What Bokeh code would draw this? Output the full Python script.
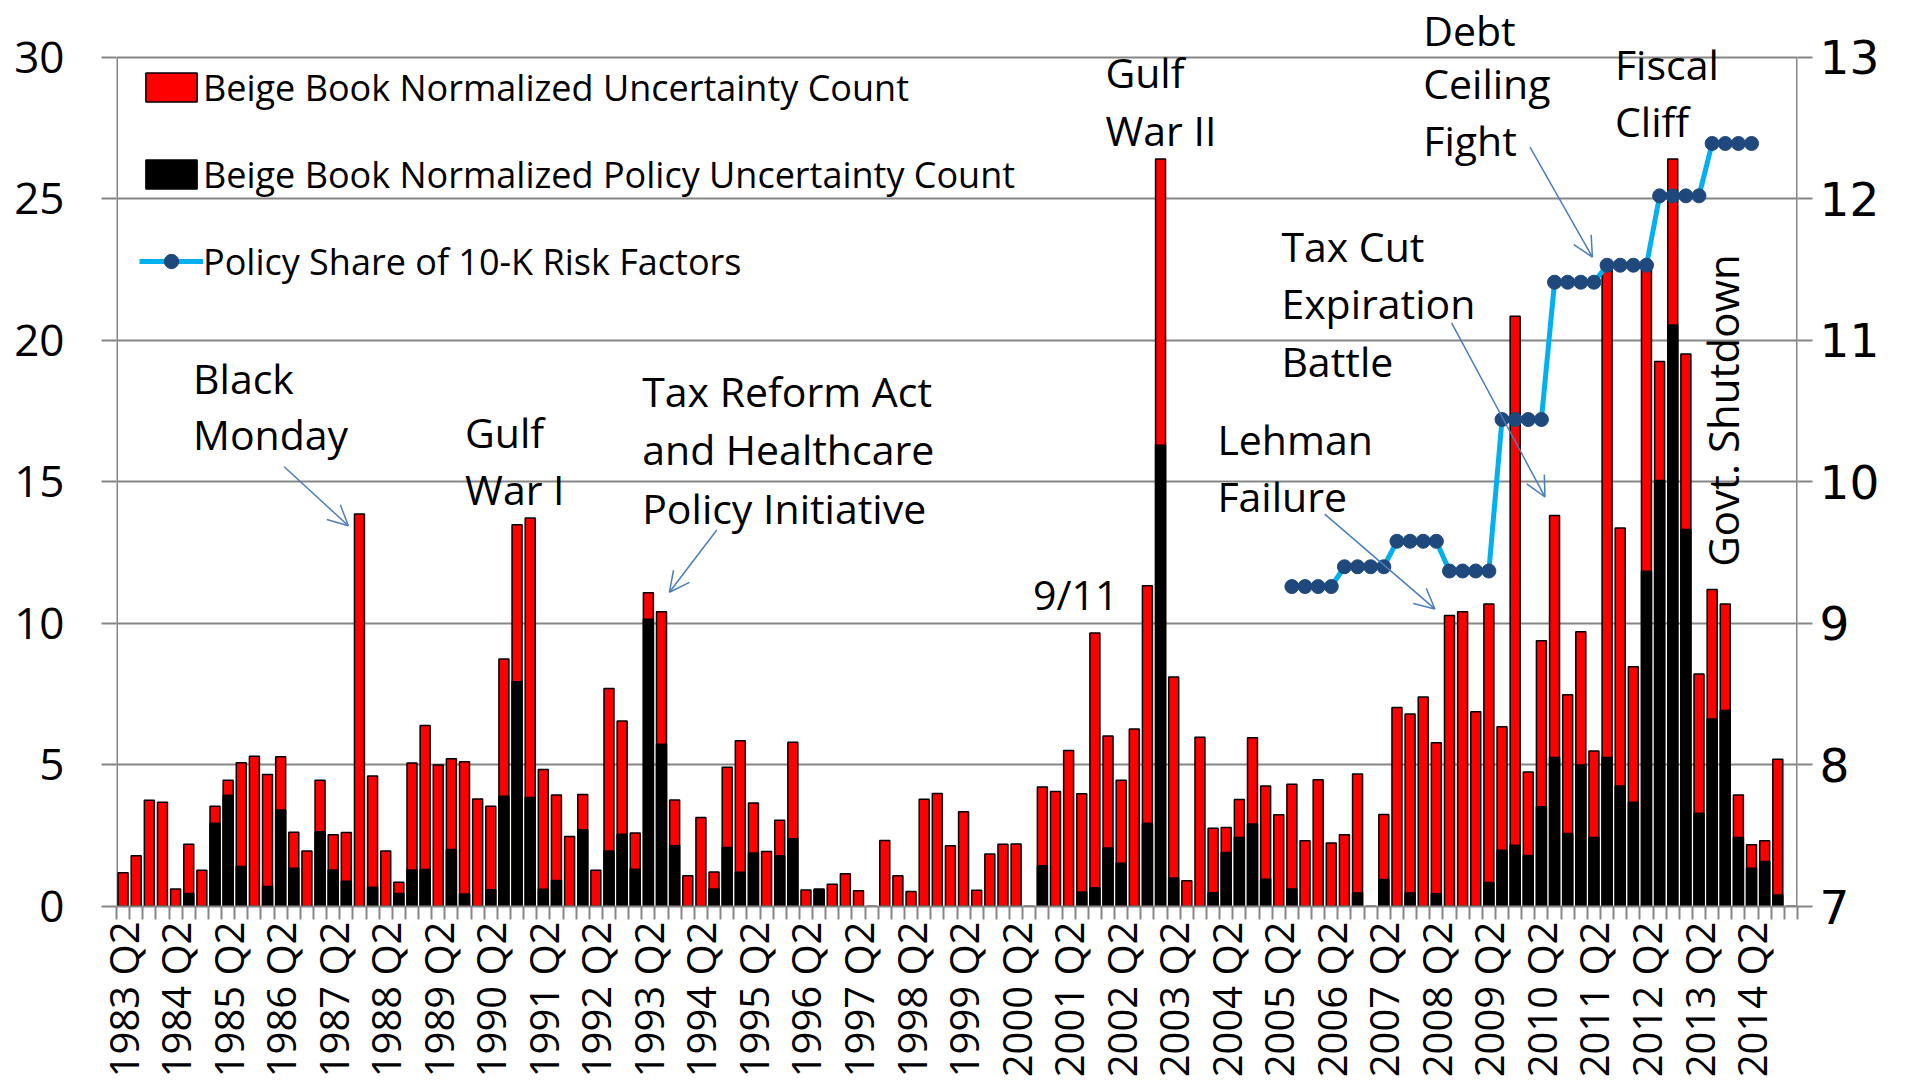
import math
from bokeh.plotting import figure
from bokeh.models import (Range1d, LinearAxis, FixedTicker, Label, Arrow, OpenHead,
                          Legend, LegendItem, ColumnDataSource)
from bokeh.embed import file_html
from bokeh.resources import INLINE

# ---------------- data ----------------
quarters = [f"{yr} Q{q}" for yr in range(1983, 2016) for q in range(1, 5)
            if (1983, 2) <= (yr, q) <= (2015, 1)]

uncertainty = [
    1.19, 1.79, 3.75, 3.68, 0.62, 2.20, 1.28, 3.54, 4.46, 5.08,
    5.31, 4.66, 5.29, 2.62, 1.96, 4.46, 2.53, 2.61, 13.86, 4.61,
    1.96, 0.86, 5.07, 6.39, 5.00, 5.22, 5.11, 3.80, 3.54, 8.74,
    13.48, 13.72, 4.84, 3.94, 2.47, 3.96, 1.28, 7.70, 6.55, 2.60,
    11.08, 10.41, 3.76, 1.09, 3.14, 1.22, 4.92, 5.85, 3.66, 1.94,
    3.05, 5.80, 0.58, 0.61, 0.79, 1.16, 0.56, 0.00, 2.33, 1.09,
    0.53, 3.79, 3.99, 2.15, 3.35, 0.57, 1.85, 2.20, 2.21, 0.00,
    4.22, 4.06, 5.51, 3.98, 9.66, 6.02, 4.46, 6.27, 11.33, 26.40,
    8.11, 0.91, 5.98, 2.76, 2.79, 3.78, 5.96, 4.26, 3.24, 4.32,
    2.32, 4.48, 2.24, 2.53, 4.68, 0.00, 3.25, 7.03, 6.80, 7.40,
    5.78, 10.28, 10.41, 6.88, 10.68, 6.35, 20.85, 4.75, 9.39, 13.81,
    7.48, 9.70, 5.49, 22.56, 13.37, 8.47, 22.72, 19.25, 26.40, 19.51,
    8.21, 11.20, 10.68, 3.94, 2.18, 2.32, 5.20, 0.00,
]

policy = [
    0.00, 0.00, 0.00, 0.00, 0.00, 0.46, 0.00, 2.94, 3.93, 1.41,
    0.00, 0.71, 3.41, 1.35, 0.00, 2.64, 1.29, 0.89, 0.00, 0.68,
    0.00, 0.46, 1.29, 1.31, 0.00, 2.01, 0.44, 0.00, 0.59, 3.89,
    7.94, 3.85, 0.61, 0.92, 0.00, 2.71, 0.00, 1.96, 2.55, 1.32,
    10.15, 5.73, 2.15, 0.00, 0.00, 0.62, 2.08, 1.21, 1.89, 0.00,
    1.79, 2.39, 0.00, 0.61, 0.00, 0.00, 0.00, 0.00, 0.00, 0.00,
    0.00, 0.00, 0.00, 0.00, 0.00, 0.00, 0.00, 0.00, 0.00, 0.00,
    1.44, 0.00, 0.00, 0.51, 0.66, 2.07, 1.53, 0.00, 2.94, 16.29,
    1.01, 0.00, 0.00, 0.49, 1.91, 2.44, 2.91, 0.96, 0.00, 0.62,
    0.00, 0.00, 0.00, 0.00, 0.48, 0.00, 0.95, 0.00, 0.48, 0.00,
    0.45, 0.00, 0.00, 0.00, 0.85, 1.99, 2.16, 1.80, 3.52, 5.26,
    2.58, 5.00, 2.44, 5.26, 4.26, 3.68, 11.84, 15.05, 20.54, 13.32,
    3.29, 6.62, 6.92, 2.44, 1.35, 1.59, 0.41, 0.00,
]

share_start = "2005 Q3"
share_10k = [
    9.26, 9.26, 9.26, 9.26, 9.40, 9.40, 9.40, 9.40, 9.58, 9.58,
    9.58, 9.58, 9.37, 9.37, 9.37, 9.37, 10.44, 10.44, 10.44, 10.44,
    11.41, 11.41, 11.41, 11.41, 11.53, 11.53, 11.53, 11.53, 12.02, 12.02,
    12.02, 12.02, 12.39, 12.39, 12.39, 12.39,
]

left_ticks = [0, 5, 10, 15, 20, 25, 30]
right_ticks = [7, 8, 9, 10, 11, 12, 13]

legend_labels = ["Beige Book Normalized Uncertainty Count",
                 "Beige Book Normalized Policy Uncertainty Count",
                 "Policy Share of 10-K Risk Factors"]

# event annotations: text lines, x (quarter slots), baselines (left-axis units)
events = [
    (["Black", "Monday"], 5.83, [18.65, 16.68]),
    (["Gulf", "War I"], 26.54, [16.75, 14.74]),
    (["Tax Reform Act", "and Healthcare", "Policy Initiative"], 40.03, [18.20, 16.15, 14.06]),
    (["9/11"], 69.79, [11.05]),
    (["Gulf", "War II"], 75.3, [29.46, 27.44]),
    (["Lehman", "Failure"], 83.83, [16.51, 14.50]),
    (["Tax Cut", "Expiration", "Battle"], 88.7, [23.32, 21.33, 19.27]),
    (["Debt", "Ceiling", "Fight"], 99.5, [30.95, 29.09, 27.09]),
    (["Fiscal", "Cliff"], 114.1, [29.74, 27.74]),
]
arrows = [
    (12.77, 15.53, 17.65, 13.45),
    (45.71, 13.30, 42.10, 11.10),
    (92.00, 13.86, 100.39, 10.51),
    (101.66, 20.61, 108.77, 14.47),
    (107.63, 26.82, 112.38, 22.94),
]

# ---------------- figure ----------------
n = len(quarters)
xs = [i + 0.5 for i in range(n)]
src = ColumnDataSource(dict(x=xs, unc=uncertainty, pol=policy))

i0 = quarters.index(share_start)
lsrc = ColumnDataSource(dict(x=[i0 + k + 0.5 for k in range(len(share_10k))], y=share_10k))

Y_TOP = 32.0  # head-room above the 30 gridline for the annotations
scale = (right_ticks[-1] - right_ticks[0]) / (left_ticks[-1] - left_ticks[0])

p = figure(width=1915, height=1080, output_backend="svg", toolbar_location=None,
           x_range=Range1d(0, n), y_range=Range1d(0, Y_TOP),
           min_border_left=116, min_border_right=118, min_border_top=0,
           min_border_bottom=173)
p.outline_line_color = None
p.background_fill_color = "white"
p.extra_y_ranges = {"share": Range1d(right_ticks[0], right_ticks[0] + Y_TOP * scale)}

GRAY = "#868686"
FONT = "Open Sans"

# grid
p.xgrid.visible = False
p.ygrid.grid_line_color = GRAY
p.ygrid.grid_line_width = 2
p.ygrid.ticker = FixedTicker(ticks=left_ticks)

# vertical axis lines (only up to the top gridline)
p.segment(x0=[0, n], y0=[0, 0], x1=[0, n], y1=[left_ticks[-1]] * 2,
          line_color=GRAY, line_width=3)

r_red = p.vbar(x="x", top="unc", bottom=0, width=0.76, source=src,
               fill_color="#FF0000", line_color="black", line_width=1.5)
r_blk = p.vbar(x="x", top="pol", bottom=0, width=0.76, source=src,
               fill_color="black", line_color="black", line_width=1.5)
r_line = p.line(x="x", y="y", source=lsrc, y_range_name="share",
                line_color="#00B0F0", line_width=5)
r_dot = p.scatter(x="x", y="y", source=lsrc, y_range_name="share", size=14,
                  fill_color="#1F497D", line_color="#1F497D")

# left axis
ya = p.yaxis[0]
ya.ticker = FixedTicker(ticks=left_ticks)
ya.axis_line_color = None
ya.major_tick_line_color = GRAY
ya.major_tick_line_width = 2
ya.major_tick_out = 15
ya.major_tick_in = 0
ya.minor_tick_line_color = None
ya.major_label_text_font = FONT
ya.major_label_text_font_size = "44px"
ya.major_label_text_color = "black"
ya.major_label_standoff = 37

# right axis
ra = LinearAxis(y_range_name="share", ticker=FixedTicker(ticks=right_ticks))
ra.axis_line_color = None
ra.major_tick_line_color = GRAY
ra.major_tick_line_width = 2
ra.major_tick_out = 15
ra.major_tick_in = 0
ra.minor_tick_line_color = None
ra.major_label_text_font = "DejaVu Sans"
ra.major_label_text_font_size = "47px"
ra.major_label_text_color = "black"
ra.major_label_standoff = 7
p.add_layout(ra, "right")

# bottom axis
xa = p.xaxis[0]
label_pos = [i + 0.5 for i in range(0, n, 4)]
xa.ticker = FixedTicker(ticks=label_pos, minor_ticks=list(range(n + 1)))
xa.major_label_overrides = {i + 0.5: quarters[i] for i in range(0, n, 4)}
xa.major_label_orientation = math.pi / 2
xa.axis_line_color = GRAY
xa.axis_line_width = 2
xa.major_tick_line_color = None
xa.major_tick_out = 0
xa.major_tick_in = 0
xa.minor_tick_line_color = GRAY
xa.minor_tick_line_width = 2
xa.minor_tick_out = 13
xa.minor_tick_in = 0
xa.major_label_text_font = FONT
xa.major_label_text_font_size = "40px"
xa.major_label_text_color = "black"
xa.major_label_standoff = 2

# event labels
for lines, x, ys in events:
    for t, y in zip(lines, ys):
        p.add_layout(Label(x=x, y=y, text=t, text_font=FONT, text_font_size="41px",
                           text_color="black", text_baseline="alphabetic",
                           text_align="left"))
p.add_layout(Label(x=122.3, y=12.0, text="Govt. Shutdown", angle=math.pi / 2,
                   text_font=FONT, text_font_size="42px", text_color="black",
                   text_baseline="alphabetic", text_align="left"))

for x0, y0, x1, y1 in arrows:
    p.add_layout(Arrow(x_start=x0, y_start=y0, x_end=x1, y_end=y1,
                       line_color="#4A7EBB", line_width=1.5,
                       end=OpenHead(size=20, line_color="#4A7EBB", line_width=1.5)))

legend = Legend(items=[LegendItem(label=legend_labels[0], renderers=[r_red]),
                       LegendItem(label=legend_labels[1], renderers=[r_blk]),
                       LegendItem(label=legend_labels[2], renderers=[r_line, r_dot])],
                location=(23, 619), margin=0, padding=0,
                glyph_width=64, glyph_height=36, label_height=52,
                spacing=35, label_standoff=0,
                label_text_font=FONT, label_text_font_size="36px",
                label_text_color="black",
                border_line_color=None, background_fill_alpha=0)
p.add_layout(legend)

open("out.html", "w").write(file_html(p, INLINE))
